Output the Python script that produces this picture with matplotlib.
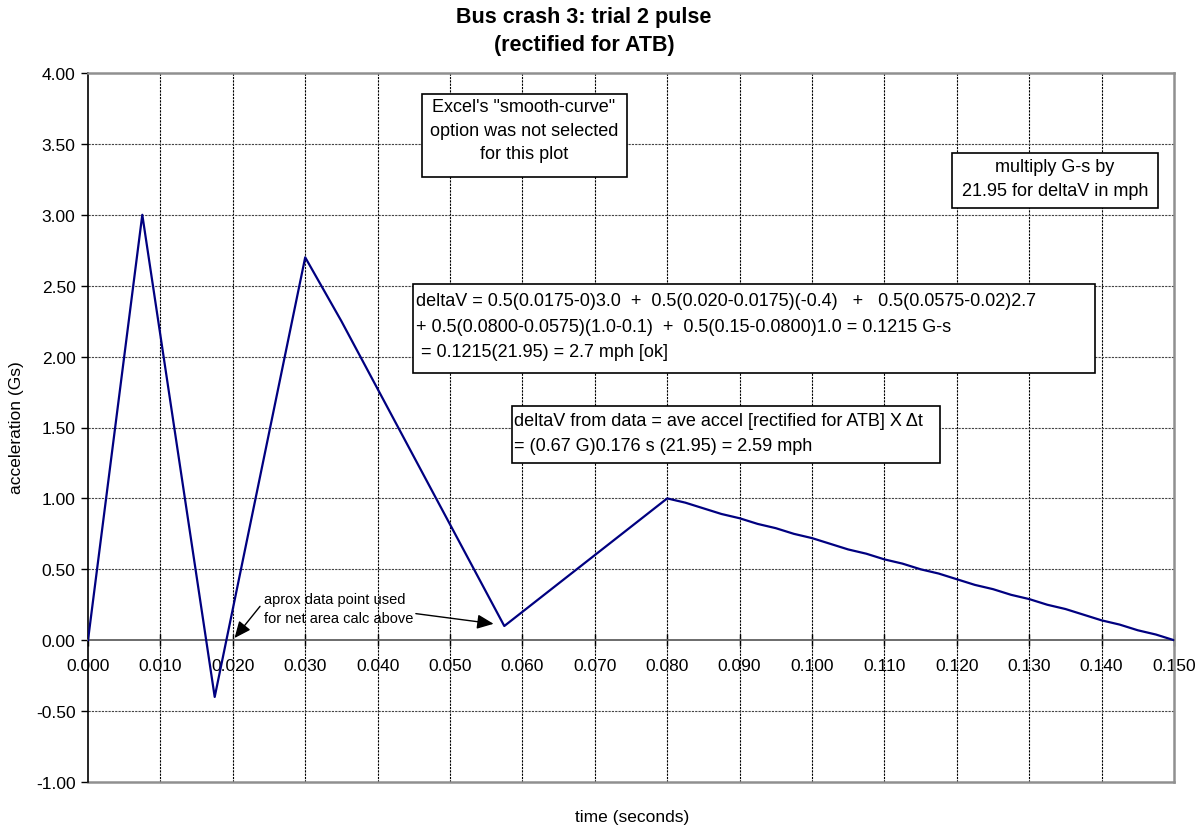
import numpy as np
import matplotlib
matplotlib.use("Agg")
import matplotlib.pyplot as plt
from matplotlib.patches import Rectangle

plt.rcParams['font.family'] = ['Liberation Sans', 'DejaVu Sans']
plt.rcParams['axes.unicode_minus'] = False

# pulse: first part read point by point, tail sampled every 0.0025 s
t_pulse = [0.000, 0.0075, 0.0175, 0.030, 0.035, 0.0575]
g_pulse = [0.0, 3.0, -0.4, 2.7, 2.25, 0.1]

t_tail = [0.080, 0.0825, 0.085, 0.0875, 0.090, 0.0925, 0.095, 0.0975,
          0.100, 0.1025, 0.105, 0.1075, 0.110, 0.1125, 0.115, 0.1175,
          0.120, 0.1225, 0.125, 0.1275, 0.130, 0.1325, 0.135, 0.1375,
          0.140, 0.1425, 0.145, 0.1475, 0.150]
g_tail = [1.00, 0.97, 0.93, 0.89, 0.86, 0.82, 0.79, 0.75,
          0.72, 0.68, 0.64, 0.61, 0.57, 0.54, 0.50, 0.47,
          0.43, 0.39, 0.36, 0.32, 0.29, 0.25, 0.22, 0.18,
          0.14, 0.11, 0.07, 0.04, 0.00]

x_ticks = [0.000, 0.010, 0.020, 0.030, 0.040, 0.050, 0.060, 0.070,
           0.080, 0.090, 0.100, 0.110, 0.120, 0.130, 0.140, 0.150]
y_ticks = [-1.0, -0.5, 0.0, 0.5, 1.0, 1.5, 2.0, 2.5, 3.0, 3.5, 4.0]

W, H = 1204, 828
fig = plt.figure(figsize=(W / 100, H / 100), dpi=100)
ax = fig.add_axes([88 / W, 1 - 783 / H, (1174 - 88) / W, (783 - 74) / H])

t_all = t_pulse + t_tail
g_all = g_pulse + g_tail
ax.plot(t_all, g_all, color='#000080', lw=1.6, zorder=3)

ax.set_xlim(0, 0.150)
ax.set_ylim(-1, 4)
ax.set_xticks(x_ticks)
ax.set_xticklabels(['%.3f' % v for v in x_ticks])
ax.set_yticks(y_ticks)
ax.set_yticklabels(['%.2f' % v for v in y_ticks])

# grid
for v in x_ticks[1:-1]:
    ax.axvline(v, color='black', lw=0.8, ls=(0, (2, 1)), zorder=1)
for v in y_ticks[1:-1]:
    if v != 0:
        ax.axhline(v, color='#444444', lw=0.8, ls=(0, (2, 1)), zorder=1)

# frame: black left, grey rest, x axis sits at zero
ax.spines['left'].set_color('black')
ax.spines['left'].set_linewidth(1.2)
ax.spines['bottom'].set_position(('data', 0))
ax.spines['bottom'].set_color('#606060')
ax.spines['bottom'].set_linewidth(1.3)
for s in ['top', 'right']:
    ax.spines[s].set_color('#909090')
    ax.spines[s].set_linewidth(1.8)
ax.axhline(-1, color='#909090', lw=1.8, zorder=2, clip_on=False)

ax.tick_params(axis='x', direction='inout', length=8, width=1, pad=9,
               labelsize=12.5, color='black')
ax.tick_params(axis='y', direction='out', length=5, width=1, pad=4,
               labelsize=12.5)

# titles and axis labels
fig.text(584 / W, 1 - 17 / H, 'Bus crash 3: trial 2 pulse', ha='center',
         va='center', fontsize=15.5, fontweight='bold')
fig.text(584 / W, 1 - 46 / H, '(rectified for ATB)', ha='center',
         va='center', fontsize=15.5, fontweight='bold')
fig.text(632 / W, 1 - 818 / H, 'time (seconds)', ha='center', va='center',
         fontsize=12.5)
fig.text(17 / W, 1 - 428 / H, 'acceleration (Gs)', ha='center', va='center',
         rotation=90, fontsize=12.5)


def box(x0, y0, x1, y1):
    r = Rectangle((x0 / W, 1 - y1 / H), (x1 - x0) / W, (y1 - y0) / H,
                  transform=fig.transFigure, facecolor='white',
                  edgecolor='black', lw=1.2, zorder=5)
    fig.add_artist(r)


def lines(x, ys, texts, ha='left', size=13):
    for y, s in zip(ys, texts):
        fig.text(x / W, 1 - y / H, s, ha=ha, va='center', fontsize=size,
                 zorder=6)


box(422, 95, 627, 178)
lines(524, [108, 131, 155], ['Excel\'s "smooth-curve"',
                             'option was not selected',
                             'for this plot'], ha='center')

box(952, 154, 1158, 209)
lines(1055, [168, 192], ['multiply G-s by', '21.95 for deltaV in mph'],
      ha='center')

box(413, 285, 1095, 374)
lines(416, [302, 328, 353],
      ['deltaV = 0.5(0.0175-0)3.0  +  0.5(0.020-0.0175)(-0.4)   +   0.5(0.0575-0.02)2.7',
       '+ 0.5(0.0800-0.0575)(1.0-0.1)  +  0.5(0.15-0.0800)1.0 = 0.1215 G-s',
       ' = 0.1215(21.95) = 2.7 mph [ok]'])

box(512, 407, 940, 464)
lines(514, [422, 447],
      ['deltaV from data = ave accel [rectified for ATB] X \u0394t',
       '= (0.67 G)0.176 s (21.95) = 2.59 mph'])

# note with two arrows
lines(264, [600, 619], ['aprox data point used', 'for net area calc above'],
      size=10.5)
head = '-|>,head_length=0.5,head_width=0.22'
ax.annotate('', xy=(0.020, 0.0), xytext=(0.0240, 0.254),
            arrowprops=dict(arrowstyle=head, color='black', lw=1,
                            mutation_scale=20), zorder=4)
ax.annotate('', xy=(0.0564, 0.113), xytext=(0.0449, 0.19),
            arrowprops=dict(arrowstyle=head, color='black', lw=1,
                            mutation_scale=20), zorder=4)

fig.savefig('out.png', dpi=100)
